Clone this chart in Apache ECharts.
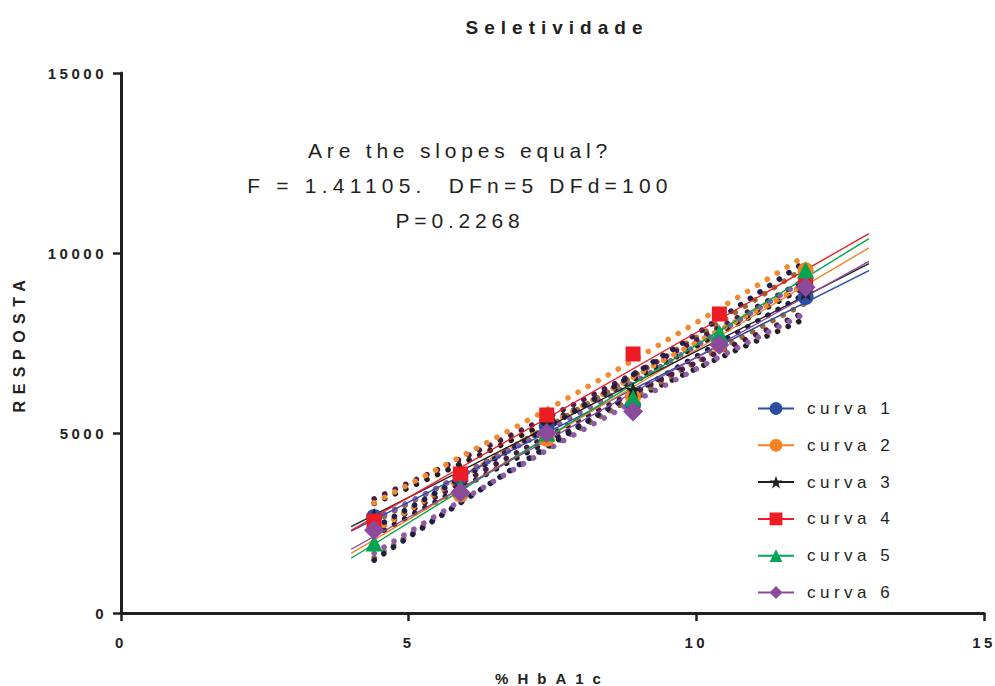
<!DOCTYPE html>
<html>
<head>
<meta charset="utf-8">
<script src="https://cdn.jsdelivr.net/npm/echarts@6/dist/echarts.min.js"></script>
<style>
html,body{margin:0;padding:0;background:#fff;}
#chart{width:995px;height:686px;}
#chart text{white-space:pre;}
</style>
</head>
<body>
<div id="chart"></div>
<script>
// ---- data ----
const xLevels = [4.4, 5.9, 7.4, 8.9, 10.4, 11.9];
const curva1 = [2667, 3778, 5195, 5778, 7472, 8778];
const curva2 = [2340, 3290, 4840, 5990, 7440, 9520];
const curva3 = [2700, 4000, 5250, 6200, 7550, 8900];
const curva4 = [2555, 3861, 5500, 7195, 8306, 9167];
const curva5 = [1944, 3472, 5000, 5972, 7778, 9528];
const curva6 = [2300, 3350, 5000, 5600, 7450, 9050];
const seriesNames = ['curva 1', 'curva 2', 'curva 3', 'curva 4', 'curva 5', 'curva 6'];
const residualSD = [540, 600, 540, 480, 540, 560];   // estimated scatter of replicates
const replicates = 3;
const tCrit = 1.984;                                 // t(0.975, df=100)
const fitRange = [4, 13];
const titleText = 'Seletividade';
const xAxisName = '%HbA1c';
const yAxisName = 'RESPOSTA';
const noteLines = ['Are the slopes equal?', 'F = 1.41105.  DFn=5 DFd=100', 'P=0.2268'];

const allCurves = [curva1, curva2, curva3, curva4, curva5, curva6];
const colors = ['#2b4ea2', '#f58220', '#231f20', '#ed1c24', '#00a651', '#8b4a9c'];
const bandColors = ['#231f20', '#9a6a30', '#4d1a4a', '#f28a2e', '#1c1f4a', '#8e5ba6'];
const starPath = 'path://M0,-10 L2.35,-3.24 9.51,-3.09 3.8,1.24 5.88,8.09 0,4 -5.88,8.09 -3.8,1.24 -9.51,-3.09 -2.35,-3.24Z';
const symbols = ['circle', 'circle', starPath, 'rect', 'triangle', 'diamond'];
const symbolSizes = [16, 16, 16, 15, 17, 20];
const FONT = 'Liberation Sans, Arial, sans-serif';
const TXT = '#231f20';

function fit(xs, ys) {
  const n = xs.length;
  const mx = xs.reduce((a, b) => a + b, 0) / n;
  const my = ys.reduce((a, b) => a + b, 0) / n;
  let sxy = 0, sxx = 0;
  for (let i = 0; i < n; i++) { sxy += (xs[i] - mx) * (ys[i] - my); sxx += (xs[i] - mx) ** 2; }
  const b = sxy / sxx;
  return { a: my - b * mx, b: b, mx: mx, sxx: sxx };
}

const series = [];
// confidence bands first (behind)
allCurves.forEach((ys, i) => {
  const f = fit(xLevels, ys);
  const N = xLevels.length * replicates;
  const Sxx = f.sxx * replicates;
  const up = [], lo = [];
  const x0 = xLevels[0], x1 = xLevels[xLevels.length - 1];
  const steps = 60;
  for (let k = 0; k <= steps; k++) {
    const x = x0 + (x1 - x0) * k / steps;
    const yhat = f.a + f.b * x;
    const hw = tCrit * residualSD[i] * Math.sqrt(1 / N + (x - f.mx) ** 2 / Sxx);
    up.push([x, yhat + hw]);
    lo.push([x, yhat - hw]);
  }
  [up, lo].forEach((d) => {
    series.push({
      type: 'line', name: 'band' + i, data: d, showSymbol: false, silent: true, z: 1,
      lineStyle: { color: bandColors[i], width: 5.5, type: [0.1, 11.5], cap: 'round' }
    });
  });
});
// regression lines (legend icon source)
allCurves.forEach((ys, i) => {
  const f = fit(xLevels, ys);
  series.push({
    type: 'line', name: seriesNames[i],
    data: fitRange.map((x) => [x, f.a + f.b * x]),
    showSymbol: false, symbol: symbols[i], symbolSize: symbolSizes[i], z: 2,
    itemStyle: { color: colors[i] },
    lineStyle: { color: colors[i], width: 1.4 }
  });
});
// markers (means)
allCurves.forEach((ys, i) => {
  series.push({
    type: 'scatter', name: seriesNames[i],
    data: xLevels.map((x, k) => [x, ys[k]]),
    symbol: symbols[i], symbolSize: symbolSizes[i], z: 3,
    itemStyle: { color: colors[i], opacity: 1 }
  });
});

const chart = echarts.init(document.getElementById('chart'), null, { renderer: 'svg' });
chart.setOption({
  animation: false,
  backgroundColor: '#fff',
  title: {
    text: titleText, left: 552, top: 13, textAlign: 'center',
    textStyle: { fontFamily: FONT, fontSize: 19, fontWeight: 'bold', color: TXT }
  },
  grid: { left: 121, right: 11, top: 73, bottom: 73, outerBoundsMode: 'none', containLabel: false },
  legend: {
    orient: 'vertical', left: 752, top: 395, itemWidth: 36, itemHeight: 16, itemGap: 19.8,
    data: seriesNames,
    textStyle: { fontFamily: FONT, fontSize: 17, color: TXT, padding: [0, 0, 0, 8] }
  },
  xAxis: {
    type: 'value', min: 0, max: 15, interval: 5,
    name: xAxisName, nameLocation: 'middle', nameGap: 58,
    nameTextStyle: { fontFamily: FONT, fontSize: 15, fontWeight: 'bold', color: TXT },
    axisLine: { lineStyle: { color: TXT, width: 3 } },
    axisTick: { length: 8, lineStyle: { color: TXT, width: 2.5 } },
    axisLabel: { fontFamily: FONT, fontSize: 15, fontWeight: 'bold', color: TXT, margin: 22,
      formatter: (v) => String(v) },
    splitLine: { show: false }
  },
  yAxis: {
    type: 'value', min: 0, max: 15000, interval: 5000,
    name: yAxisName, nameLocation: 'middle', nameGap: 94, nameRotate: 90,
    nameTextStyle: { fontFamily: FONT, fontSize: 16, fontWeight: 'bold', color: TXT },
    axisLine: { lineStyle: { color: TXT, width: 3 } },
    axisTick: { length: 8, lineStyle: { color: TXT, width: 2.5 } },
    axisLabel: { fontFamily: FONT, fontSize: 15, fontWeight: 'bold', color: TXT, margin: 14,
      formatter: (v) => String(v) },
    splitLine: { show: false }
  },
  graphic: noteLines.map((t, k) => ({
    type: 'text', x: 460, y: 150 + k * 35, silent: true,
    style: { text: t, fontFamily: FONT, fontSize: 21, fill: TXT, textAlign: 'center', textVerticalAlign: 'middle' }
  })),
  series: series
});

function applySpacing() {
  document.querySelectorAll('#chart text').forEach((el) => {
    const t = el.textContent;
    let sp = null;
    if (t === titleText) sp = 6;
    else if (t === xAxisName) sp = 9;
    else if (t === yAxisName) sp = 6.5;
    else if (/^\d+$/.test(t)) sp = 3.5;
    else if (/^curva/.test(t)) sp = 4.5;
    else if (t === noteLines[1]) sp = 5.2;
    else if (noteLines.indexOf(t) >= 0) sp = 4.8;
    if (sp !== null) el.style.letterSpacing = sp + 'px';
  });
}
chart.on('finished', applySpacing);
applySpacing();
setTimeout(applySpacing, 50);
</script>
</body>
</html>
